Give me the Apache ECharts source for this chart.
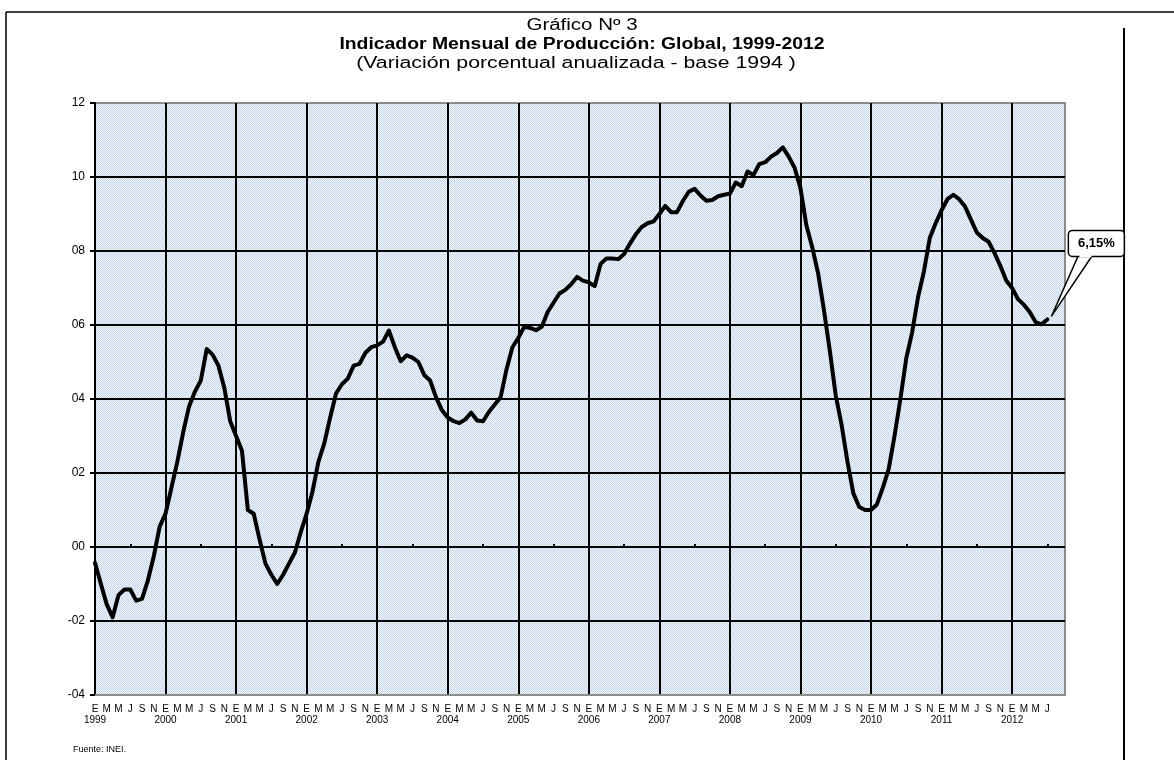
<!DOCTYPE html>
<html>
<head>
<meta charset="utf-8">
<script src="https://cdn.jsdelivr.net/npm/echarts@6/dist/echarts.min.js"></script>
<style>
  html, body { margin: 0; padding: 0; background: #fff; }
  #main { width: 1174px; height: 760px; }
</style>
</head>
<body>
<div id="main"></div>
<script>
// datos ==========================================
const startYear = 1999;
const axisMonths = 166; // ene 1999 .. oct 2012 (eje)
const monthLetters = ['E', 'F', 'M', 'A', 'M', 'J', 'J', 'A', 'S', 'O', 'N', 'D'];
const yMin = -4, yMax = 12, yStep = 2;

// variación porcentual anualizada, ene 1999 .. jul 2012
const values1999 = [-0.43, -1.0, -1.55, -1.9, -1.3, -1.15, -1.15, -1.45, -1.4, -0.9, -0.25, 0.55];
const values2000 = [0.9, 1.6, 2.3, 3.1, 3.8, 4.2, 4.5, 5.35, 5.2, 4.9, 4.3, 3.4];
const values2001 = [3.0, 2.6, 1.0, 0.9, 0.2, -0.45, -0.75, -1.0, -0.75, -0.45, -0.15, 0.4];
const values2002 = [0.9, 1.5, 2.3, 2.8, 3.5, 4.15, 4.4, 4.55, 4.9, 4.95, 5.25, 5.4];
const values2003 = [5.45, 5.55, 5.85, 5.4, 5.02, 5.18, 5.12, 5.0, 4.65, 4.5, 4.05, 3.7];
const values2004 = [3.5, 3.4, 3.35, 3.45, 3.63, 3.42, 3.4, 3.65, 3.85, 4.05, 4.8, 5.4];
const values2005 = [5.65, 5.95, 5.92, 5.86, 5.95, 6.35, 6.6, 6.85, 6.95, 7.1, 7.3, 7.2];
const values2006 = [7.15, 7.05, 7.65, 7.8, 7.8, 7.78, 7.92, 8.2, 8.45, 8.65, 8.75, 8.8];
const values2007 = [9.0, 9.22, 9.05, 9.05, 9.35, 9.6, 9.68, 9.5, 9.36, 9.38, 9.48, 9.52];
const values2008 = [9.55, 9.85, 9.75, 10.15, 10.05, 10.35, 10.4, 10.55, 10.65, 10.8, 10.55, 10.25];
const values2009 = [9.7, 8.7, 8.1, 7.4, 6.4, 5.3, 4.1, 3.3, 2.3, 1.45, 1.08, 1.0];
const values2010 = [1.0, 1.15, 1.6, 2.1, 3.0, 4.0, 5.1, 5.8, 6.75, 7.45, 8.35, 8.75];
const values2011 = [9.1, 9.4, 9.52, 9.4, 9.2, 8.85, 8.5, 8.35, 8.25, 7.95, 7.6, 7.2];
const values2012 = [7.0, 6.7, 6.55, 6.35, 6.08, 6.02, 6.15];

const values = [].concat(values1999, values2000, values2001, values2002, values2003,
    values2004, values2005, values2006, values2007, values2008, values2009,
    values2010, values2011, values2012);

const categories = [];
for (let i = 0; i < axisMonths; i++) {
    const y = startYear + Math.floor(i / 12);
    const m = i % 12;
    categories.push(y + '-' + String(m + 1).padStart(2, '0'));
}

// líneas horizontales interiores (sin los bordes)
const yGridValues = [];
for (let v = yMin + yStep; v < yMax; v += yStep) yGridValues.push(v);

// textura del fondo (trama azul clara)
function makePattern() {
    const c = document.createElement('canvas');
    c.width = 2; c.height = 2;
    const ctx = c.getContext('2d');
    ctx.fillStyle = '#eff3fa';
    ctx.fillRect(0, 0, 2, 2);
    ctx.fillStyle = '#c9d7eb';
    ctx.fillRect(0, 0, 1, 1);
    ctx.fillRect(1, 1, 1, 1);
    return { image: c, repeat: 'repeat' };
}

function yLabel(v) {
    const a = Math.abs(v);
    const s = a < 10 ? '0' + a : String(a);
    return v < 0 ? '-' + s : s;
}

const narrow = '"Liberation Sans Narrow", "Liberation Sans", Arial, sans-serif';
const sans = '"Liberation Sans", Arial, sans-serif';

const chart = echarts.init(document.getElementById('main'));

const option = {
    animation: false,
    backgroundColor: '#fff',
    grid: {
        left: 95, right: 109, top: 103, bottom: 65,
        show: true,
        borderColor: '#8c8c8c',
        borderWidth: 2,
        backgroundColor: makePattern()
    },
    xAxis: [{
        // meses
        type: 'category',
        data: categories,
        boundaryGap: false,
        position: 'bottom',
        axisLine: { onZero: false, lineStyle: { color: '#8c8c8c', width: 2 } },
        axisTick: { show: false },
        axisLabel: {
            interval: (i) => i % 2 === 0 && i < values.length,
            showMinLabel: true,
            formatter: (val, i) => monthLetters[i % 12],
            color: '#000',
            fontFamily: narrow,
            fontSize: 10,
            margin: 9
        },
        splitLine: {
            show: true,
            interval: (i) => i > 0 && i % 12 === 0,
            lineStyle: { color: '#000', width: 2 }
        }
    }, {
        // marcas de mitad de año sobre la línea del cero
        type: 'category',
        data: categories,
        boundaryGap: false,
        axisLine: { show: true, onZero: true, lineStyle: { color: '#000', width: 0, opacity: 0 } },
        axisTick: {
            show: true, inside: false, length: 3,
            interval: (i) => i % 12 === 6,
            lineStyle: { color: '#000', width: 2 }
        },
        axisLabel: { show: false },
        splitLine: { show: false }
    }, {
        // años
        type: 'category',
        data: categories,
        boundaryGap: false,
        position: 'bottom',
        axisLine: { show: false, onZero: false },
        axisTick: { show: false },
        axisLabel: {
            interval: (i) => i % 12 === 0,
            showMinLabel: true,
            formatter: (val, i) => String(startYear + Math.floor(i / 12)),
            color: '#000',
            fontFamily: narrow,
            fontSize: 10,
            margin: 20
        },
        splitLine: { show: false }
    }],
    yAxis: {
        type: 'value',
        min: yMin, max: yMax, interval: yStep,
        axisLine: { show: true, lineStyle: { color: '#000', width: 2 } },
        axisTick: { show: true, length: 5, lineStyle: { color: '#000', width: 2 } },
        axisLabel: { formatter: yLabel, color: '#000', fontFamily: sans, fontSize: 12, margin: 10 },
        splitLine: { show: false }
    },
    series: [{
        type: 'line',
        data: [],
        z: 2,
        silent: true,
        markLine: {
            silent: true,
            symbol: 'none',
            label: { show: false },
            lineStyle: { color: '#000', width: 2, type: 'solid' },
            data: yGridValues.map(v => ({ yAxis: v }))
        }
    }, {
        type: 'line',
        data: values,
        symbol: 'none',
        z: 5,
        lineStyle: { color: '#000', width: 4, join: 'round', cap: 'round' }
    }],
    graphic: [
        // marco
        { type: 'line', shape: { x1: 6, y1: 12, x2: 1174, y2: 12 }, style: { stroke: '#000', lineWidth: 1.5 } },
        { type: 'line', shape: { x1: 6, y1: 12, x2: 6, y2: 760 }, style: { stroke: '#000', lineWidth: 1.5 } },
        { type: 'line', shape: { x1: 1124, y1: 28, x2: 1124, y2: 760 }, style: { stroke: '#000', lineWidth: 2 } },
        // títulos
        { type: 'text', x: 582, y: 26, scaleX: 1.28, style: { text: 'Gráfico Nº 3', font: '16px ' + sans, fill: '#000', align: 'center', verticalAlign: 'middle' } },
        { type: 'text', x: 582, y: 45, scaleX: 1.21, style: { text: 'Indicador Mensual de Producción: Global, 1999-2012', font: 'bold 16px ' + sans, fill: '#000', align: 'center', verticalAlign: 'middle' } },
        { type: 'text', x: 576, y: 64, scaleX: 1.33, style: { text: '(Variación porcentual anualizada - base 1994 )', font: '16px ' + sans, fill: '#000', align: 'center', verticalAlign: 'middle' } },
        { type: 'text', x: 73, y: 750, style: { text: 'Fuente: INEI.', font: '9px ' + narrow, fill: '#000', verticalAlign: 'middle' } }
    ]
};
chart.setOption(option);

// globo con el último valor
const lastIdx = values.length - 1;
const lastVal = values[lastIdx];
const p = chart.convertToPixel({ seriesIndex: 1 }, [lastIdx, lastVal]);
const label = lastVal.toFixed(2).replace('.', ',') + '%';
const bx = p[0] + 21, by = p[1] - 89, bw = 56, bh = 26;
chart.setOption({
    graphic: option.graphic.concat([
        {
            type: 'polygon', z: 20,
            shape: { points: [[p[0] + 4, p[1] - 3], [bx + 10, by + bh - 1], [bx + 24, by + bh - 1]] },
            style: { fill: '#fff', stroke: '#000', lineWidth: 1.5 }
        },
        {
            type: 'rect', z: 21,
            shape: { x: bx, y: by, width: bw, height: bh, r: 4 },
            style: { fill: '#fff', stroke: '#000', lineWidth: 1.5 }
        },
        {
            type: 'rect', z: 22,
            shape: { x: bx + 11, y: by + bh - 3, width: 12, height: 4 },
            style: { fill: '#fff' }
        },
        {
            type: 'text', z: 23, x: bx + bw / 2, y: by + bh / 2,
            style: { text: label, font: 'bold 13px ' + sans, fill: '#000', align: 'center', verticalAlign: 'middle' }
        }
    ])
});
</script>
</body>
</html>
